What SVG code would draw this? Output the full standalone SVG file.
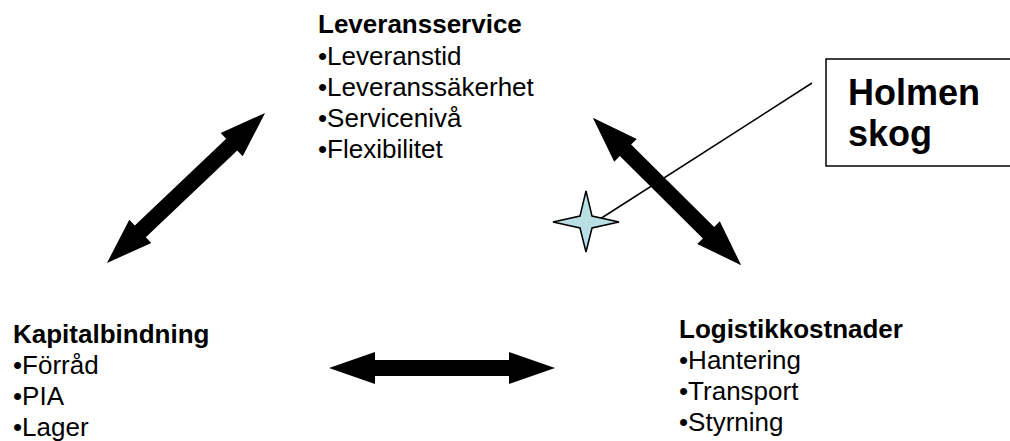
<svg xmlns="http://www.w3.org/2000/svg" width="1010" height="441" viewBox="0 0 1010 441">
  <style>
    text { font-family: "Liberation Sans", Arial, sans-serif; fill: #000; }
    .head { font-size: 26px; font-weight: bold; }
    .item { font-size: 26px; }
    .callout { font-size: 36px; font-weight: bold; }
    .arrow { fill: #000; }
    .leader { stroke: #000; stroke-width: 1.5; fill: none; }
    .box { fill: #fff; stroke: #000; stroke-width: 1.5; }
    .star { fill: #b8e0e4; stroke: #000; stroke-width: 1.5; stroke-linejoin: miter; }
  </style>
  <rect width="1010" height="441" fill="#fff"/>

  <!-- connectors: three double-headed block arrows and the callout leader -->
  <g id="connectors">
    <polygon class="arrow" transform="translate(186 188) rotate(-43.5)"
      points="-109,0 -63,-16 -63,-8 63,-8 63,-16 109,0 63,16 63,8 -63,8 -63,16"/>
    <polygon class="arrow" transform="translate(667 191.5) rotate(44.8)"
      points="-104.5,0 -58.5,-16 -58.5,-8 58.5,-8 58.5,-16 104.5,0 58.5,16 58.5,8 -58.5,8 -58.5,16"/>
    <polygon class="arrow" transform="translate(442 368)"
      points="-113,0 -67,-16 -67,-8 67,-8 67,-16 113,0 67,16 67,8 -67,8 -67,16"/>
    <line class="leader" x1="600" y1="219" x2="812" y2="83"/>
  </g>

  <g id="leveransservice">
    <text class="head" x="318" y="33">Leveransservice</text>
    <text class="item" x="318" y="65">•Leveranstid</text>
    <text class="item" x="318" y="96">•Leveranssäkerhet</text>
    <text class="item" x="318" y="127">•Servicenivå</text>
    <text class="item" x="318" y="158">•Flexibilitet</text>
  </g>

  <g id="kapitalbindning">
    <text class="head" x="13" y="343">Kapitalbindning</text>
    <text class="item" x="13" y="374">•Förråd</text>
    <text class="item" x="13" y="405">•PIA</text>
    <text class="item" x="13" y="436">•Lager</text>
  </g>

  <g id="logistikkostnader">
    <text class="head" x="679" y="338">Logistikkostnader</text>
    <text class="item" x="679" y="369">•Hantering</text>
    <text class="item" x="679" y="400">•Transport</text>
    <text class="item" x="679" y="431">•Styrning</text>
  </g>

  <!-- callout box runs past the right edge of the canvas -->
  <g id="holmen-skog">
    <rect class="box" x="826" y="59" width="200" height="107"/>
    <text class="callout" x="848" y="105">Holmen</text>
    <text class="callout" x="848" y="146">skog</text>
  </g>

  <g id="star-marker">
    <polygon class="star"
      points="586,191 592,216 619,222 592,228 586,252 580,228 553,222 580,216"/>
  </g>
</svg>
